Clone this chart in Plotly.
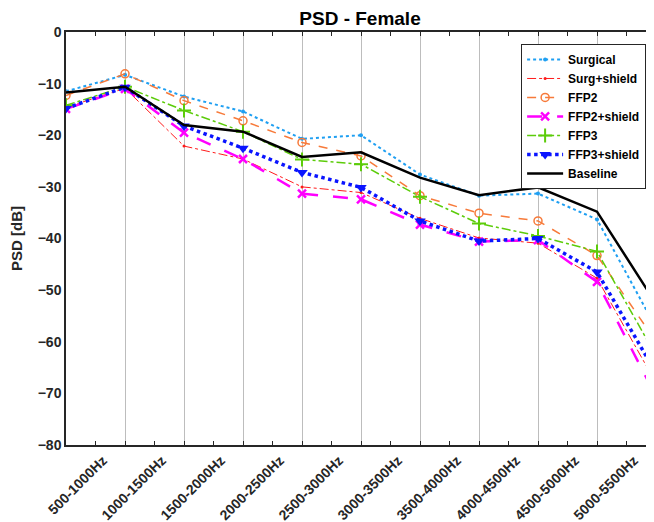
import plotly.graph_objects as go

# frequency bands (last one sits just past the right edge of the crop)
bands = [
    "500-1000Hz", "1000-1500Hz", "1500-2000Hz", "2000-2500Hz", "2500-3000Hz",
    "3000-3500Hz", "3500-4000Hz", "4000-4500Hz", "4500-5000Hz", "5000-5500Hz",
    "5500-6000Hz",
]

surgical = [-11.5, -8.3, -12.5, -15.4, -20.7, -20.0, -27.6, -31.7, -31.3, -36.3, -57.3]
surg_shield = [-14.6, -10.9, -22.1, -24.6, -30.0, -31.1, -36.1, -39.9, -40.9, -47.7, -68.0]
ffp2 = [-12.3, -8.1, -13.3, -17.2, -21.4, -24.0, -31.7, -35.1, -36.6, -43.3, -60.0]
ffp2_shield = [-14.9, -11.0, -19.5, -24.6, -31.3, -32.4, -37.3, -40.6, -40.3, -48.4, -70.6]
ffp3 = [-14.2, -10.6, -15.2, -19.3, -24.7, -25.6, -31.9, -37.1, -39.5, -42.5, -62.7]
ffp3_shield = [-14.8, -10.7, -18.2, -22.5, -27.2, -30.1, -36.6, -40.5, -40.0, -46.5, -66.0]
baseline = [-11.7, -10.6, -18.0, -19.3, -24.2, -23.3, -28.2, -31.6, -30.1, -34.8, -52.6]

FONT = "Liberation Sans, Arial, sans-serif"

series = [
    ("Surgical", surgical, dict(color="#1e9ff2", width=2, dash="dot"),
     dict(symbol="circle", size=4)),
    ("Surg+shield", surg_shield, dict(color="#ff1a1a", width=1, dash="dashdot"),
     dict(symbol="circle", size=3)),
    ("FFP2", ffp2, dict(color="#f77a3a", width=1.5, dash="dash"),
     dict(symbol="circle-open", size=8, line=dict(width=1.5))),
    ("FFP2+shield", ffp2_shield, dict(color="#ff00ff", width=2.5, dash="longdash"),
     dict(symbol="x-thin-open", size=8, line=dict(width=2.5))),
    ("FFP3", ffp3, dict(color="#5ccc0a", width=1.5, dash="dashdot"),
     dict(symbol="cross-thin-open", size=10, line=dict(width=2))),
    ("FFP3+shield", ffp3_shield, dict(color="#0a14ff", width=3.5, dash="dot"),
     dict(symbol="triangle-down", size=10)),
    ("Baseline", baseline, dict(color="#000000", width=2.5), None),
]

x = list(range(len(bands)))

fig = go.Figure()
for name, vals, line, marker in series:
    if marker is None:
        fig.add_trace(go.Scatter(x=x, y=vals, name=name, mode="lines", line=line))
        continue
    marker = dict(marker, color=line["color"])
    fig.add_trace(go.Scatter(
        x=x, y=vals, name=name, mode="lines+markers", line=line, marker=marker,
    ))

# page body has an 8px margin, so the figure is laid out 8px up/left of target
fig.update_xaxes(
    range=[0, 9.966],
    tickvals=x, ticktext=bands, tickangle=-45, ticklabelshift=37,
    tickfont=dict(family=FONT, size=14, color="#262626", weight="bold"),
    showgrid=True, gridcolor="#bdbdbd", gridwidth=1,
    showline=True, linecolor="#262626", linewidth=1.5, mirror="allticks",
    ticks="inside", ticklen=4, tickcolor="#262626",
    minor=dict(tickvals=[i + 0.5 for i in x], ticks="inside", ticklen=4,
               tickcolor="#262626", showgrid=False),
    zeroline=False, automargin=False,
)
fig.update_yaxes(
    range=[-80, 0], dtick=10,
    tickfont=dict(family=FONT, size=14, color="#262626", weight="bold"),
    showgrid=False, zeroline=False,
    showline=True, linecolor="#262626", linewidth=1.5,
    ticks="", automargin=False,
    title=dict(text="PSD [dB]", standoff=12,
               font=dict(family=FONT, size=15, color="#262626", weight="bold")),
)

fig.update_layout(
    width=646, height=514,
    margin=dict(l=58, r=0, t=24, b=77),
    plot_bgcolor="white", paper_bgcolor="white",
    title=dict(text="PSD - Female", x=0.5, xref="paper", y=1 - 10 / 514,
               yref="container", yanchor="middle",
               font=dict(family=FONT, size=19, color="#000000", weight="bold")),
    legend=dict(
        x=0.774, y=0.971, xanchor="left", yanchor="top",
        bgcolor="white", bordercolor="#262626", borderwidth=1,
        font=dict(family=FONT, size=12, color="#000000", weight="bold"),
        tracegroupgap=0, itemwidth=36,
    ),
    showlegend=True,
)

fig.write_html("out.html")
